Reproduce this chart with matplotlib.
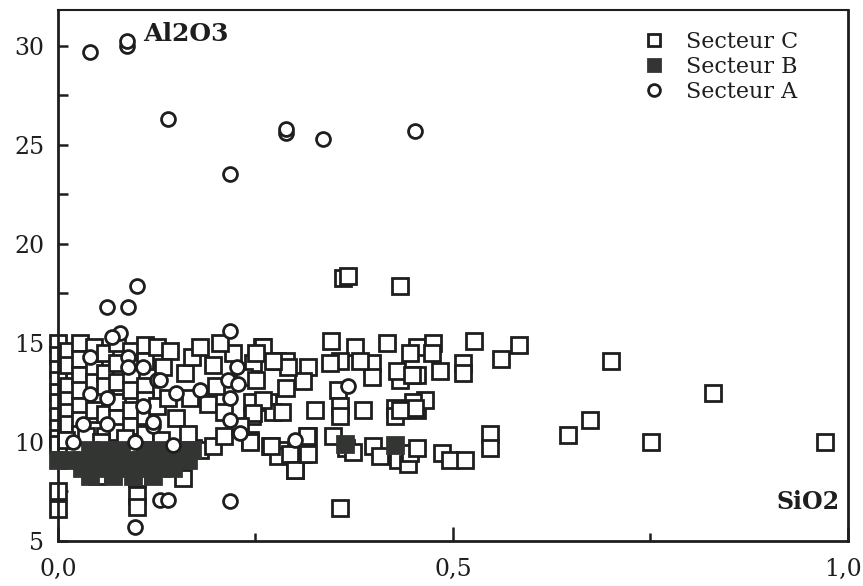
"""Al2O3 vs SiO2 scatter by sector (C, B, A)."""
import matplotlib
matplotlib.use('Agg')
import matplotlib.pyplot as plt
from matplotlib.ticker import MultipleLocator, FuncFormatter

# Secteur C (open squares)
sect_c_x = [
    0.0, 0.0, 0.0, 0.0, 0.0, 0.0, 0.0, 0.0, 0.0,
    0.013, 0.013, 0.013, 0.013, 0.013, 0.013,
    0.028, 0.028, 0.028, 0.028, 0.028, 0.028, 0.028,
    0.045, 0.045, 0.045, 0.045, 0.045,
    0.06, 0.06, 0.06, 0.06, 0.06,
    0.075, 0.075, 0.075, 0.075, 0.075, 0.075,
    0.092, 0.092, 0.092, 0.092, 0.092,
    0.11, 0.11, 0.11, 0.11, 0.11, 0.11,
    0.125, 0.125, 0.142, 0.133, 0.161, 0.169, 0.139, 0.167, 0.19, 0.196,
    0.222, 0.258, 0.247, 0.277, 0.245, 0.266, 0.245, 0.272, 0.15, 0.2,
    0.18, 0.205, 0.235,
    0.0, 0.0, 0.0, 0.05, 0.1, 0.1, 0.1, 0.158, 0.171, 0.18, 0.196, 0.21,
    0.243, 0.268, 0.281, 0.279, 0.3, 0.31, 0.317,
    0.361, 0.367, 0.433,
    0.260, 0.346, 0.376, 0.416, 0.454, 0.475, 0.526, 0.583, 0.561, 0.513,
    0.513, 0.484, 0.454, 0.433, 0.429, 0.397, 0.397, 0.382, 0.357, 0.344,
    0.317, 0.310, 0.289, 0.289, 0.291, 0.272, 0.251, 0.251, 0.260, 0.446,
    0.473, 0.448, 0.355,
    0.283, 0.325, 0.357, 0.357, 0.386, 0.427, 0.427, 0.454, 0.465, 0.45,
    0.452, 0.433, 0.247,
    0.243, 0.27, 0.294, 0.3, 0.316, 0.315, 0.348, 0.365, 0.374, 0.399,
    0.408, 0.431, 0.443, 0.446, 0.454, 0.486, 0.496, 0.515, 0.547, 0.547,
    0.70, 0.829, 0.673, 0.646, 0.751, 0.971, 0.357,
    0.01, 0.035, 0.055, 0.085, 0.13, 0.165, 0.21, 0.23,
]
sect_c_y = [
    15.0, 14.4, 13.7, 13.1, 12.5, 12.0, 11.3, 10.7, 10.2,
    14.6, 13.9, 12.8, 12.1, 11.5, 10.9,
    15.0, 14.2, 13.4, 12.6, 11.8, 11.1, 10.4,
    14.8, 13.7, 13.0, 11.6, 10.6,
    14.5, 13.5, 12.8, 11.4, 10.3,
    15.0, 14.0, 13.0, 12.0, 11.2, 10.5,
    14.6, 13.4, 12.6, 11.6, 10.8,
    14.9, 14.1, 12.8, 12.1, 11.3, 10.4,
    14.8, 11.8, 14.6, 13.8, 13.5, 14.3, 12.2, 12.2, 11.9, 13.9,
    14.5, 14.8, 14.0, 14.1, 12.0, 12.0, 11.3, 11.5, 11.2, 12.8,
    14.8, 15.0, 13.3,
    9.9, 7.5, 6.6, 8.3, 8.2, 7.3, 6.7, 8.2, 9.7, 9.6, 9.8, 10.3,
    10.1, 9.8, 9.6, 9.3, 8.6, 9.4, 10.3,
    18.25, 18.35, 17.85,
    14.8, 15.1, 14.8, 15.0, 14.8, 15.0, 15.1, 14.9, 14.2, 14.0,
    13.5, 13.6, 13.4, 13.1, 13.6, 14.0, 13.3, 14.1, 14.1, 14.0,
    13.8, 13.05, 12.7, 14.1, 13.8, 14.1, 13.1, 14.5, 12.1, 14.5,
    14.5, 13.4, 12.6,
    11.5, 11.6, 11.8, 11.3, 11.6, 11.7, 11.3, 11.6, 12.1, 12.0,
    11.7, 11.6, 11.45,
    10.0, 9.8, 9.4, 8.6, 9.4, 10.3, 10.3, 9.7, 9.5, 9.8,
    9.3, 9.1, 8.9, 9.45, 9.7, 9.45, 9.1, 9.1, 10.4, 9.7,
    14.1, 12.45, 11.1, 10.35, 10.0, 10.0, 6.65,
    10.1, 10.3, 10.0, 10.2, 10.1, 10.4, 11.5, 10.8,
]

# Secteur B (filled squares)
sect_b_x = [
    0.0, 0.015, 0.03, 0.045, 0.06, 0.075, 0.09, 0.105, 0.12, 0.135, 0.15, 0.165,
    0.03, 0.05, 0.07, 0.09, 0.11, 0.13, 0.145,
    0.04, 0.06, 0.08, 0.11, 0.13, 0.155, 0.17,
    0.04, 0.07, 0.095, 0.12,
    0.363, 0.427,
]
sect_b_y = [
    9.1, 9.1, 9.1, 9.1, 9.1, 9.1, 9.1, 9.1, 9.1, 9.1, 9.1, 9.1,
    8.7, 8.7, 8.7, 8.7, 8.7, 8.7, 8.7,
    9.6, 9.6, 9.6, 9.6, 9.6, 9.6, 9.6,
    8.3, 8.3, 8.3, 8.3,
    9.9, 9.85,
]

# Secteur A (open circles)
sect_a_x = [
    0.0405, 0.087, 0.087, 0.139, 0.218, 0.289, 0.289, 0.335, 0.452,
    0.062, 0.088, 0.0996, 0.218, 0.078, 0.068,
    0.0405, 0.089, 0.089, 0.108, 0.125, 0.041, 0.062, 0.108, 0.032, 0.062,
    0.12, 0.019, 0.097, 0.146, 0.129, 0.150, 0.18, 0.226, 0.215, 0.228,
    0.218, 0.218, 0.23, 0.12, 0.367, 0.300,
    0.218, 0.129, 0.139, 0.098,
]
sect_a_y = [
    29.7, 30.0, 30.25, 26.3, 23.5, 25.6, 25.8, 25.3, 25.7,
    16.8, 16.8, 17.85, 15.6, 15.5, 15.3,
    14.3, 14.3, 13.8, 13.8, 13.1, 12.4, 12.2, 11.8, 10.9, 10.9,
    10.8, 10.0, 10.0, 9.85, 13.1, 12.45, 12.6, 13.8, 13.1, 12.9,
    12.2, 11.1, 10.45, 11.0, 12.8, 10.1,
    7.0, 7.07, 7.07, 5.7,
]

INK = '#1e1e1e'
SERIF = 'DejaVu Serif'

fig = plt.figure(figsize=(8.63, 5.86), dpi=100)
ax = fig.add_axes([0.0672, 0.0768, 0.9154, 0.9062])

ax.plot(sect_c_x, sect_c_y, 's', ms=11, mfc='white', mec=INK, mew=2.0,
        label='Secteur C', clip_on=False, zorder=2)
ax.plot(sect_b_x, sect_b_y, 's', ms=11, mfc='#333533', mec='#333533', mew=2.0,
        label='Secteur B', clip_on=False, zorder=3)
ax.plot(sect_a_x, sect_a_y, 'o', ms=10, mfc='white', mec=INK, mew=2.0,
        label='Secteur A', clip_on=False, zorder=4)

ax.set_xlim(0, 1.0)
ax.set_ylim(5, 31.8)

for s in ax.spines.values():
    s.set_linewidth(2.0)
    s.set_color(INK)
ax.spines['top'].set_linewidth(1.5)

ax.xaxis.set_major_locator(MultipleLocator(0.5))
ax.xaxis.set_minor_locator(MultipleLocator(0.25))
ax.yaxis.set_major_locator(MultipleLocator(5))
ax.yaxis.set_minor_locator(MultipleLocator(2.5))
# the "1,0" label at the right edge is placed by hand below so it stays inside the canvas
ax.xaxis.set_major_formatter(FuncFormatter(
    lambda v, p: '' if v > 0.99 else f'{v:.1f}'.replace('.', ',')))
ax.yaxis.set_major_formatter(FuncFormatter(lambda v, p: f'{v:.0f}'))
ax.tick_params(which='both', direction='in', top=False, right=False,
               width=1.8, color=INK, labelsize=17, labelcolor=INK)
ax.tick_params(axis='y', which='both', length=7, pad=10)
ax.tick_params(axis='x', which='major', length=10, pad=12)
ax.tick_params(axis='x', which='minor', length=6)
for lab in ax.get_xticklabels() + ax.get_yticklabels():
    lab.set_family(SERIF)

ax.annotate('1,0', xy=(1.0, 0), xycoords=('data', 'axes fraction'),
            xytext=(10, -12), textcoords='offset points', ha='right', va='top',
            fontsize=17, family=SERIF, color=INK)

ax.text(0.108, 0.978, 'Al2O3', transform=ax.transAxes, fontsize=18,
        fontweight='bold', family=SERIF, color=INK, va='top')
ax.text(0.99, 0.05, 'SiO2', transform=ax.transAxes, fontsize=17,
        fontweight='bold', family=SERIF, color=INK, ha='right', va='bottom')

leg = ax.legend(loc='upper left', bbox_to_anchor=(0.74, 0.96), frameon=False,
                prop={'family': SERIF, 'size': 16}, handletextpad=0.95,
                labelspacing=0.13, markerscale=0.85, handlelength=1.0,
                borderpad=0, borderaxespad=0)
for t in leg.get_texts():
    t.set_color(INK)

fig.savefig('out.png', dpi=100)
